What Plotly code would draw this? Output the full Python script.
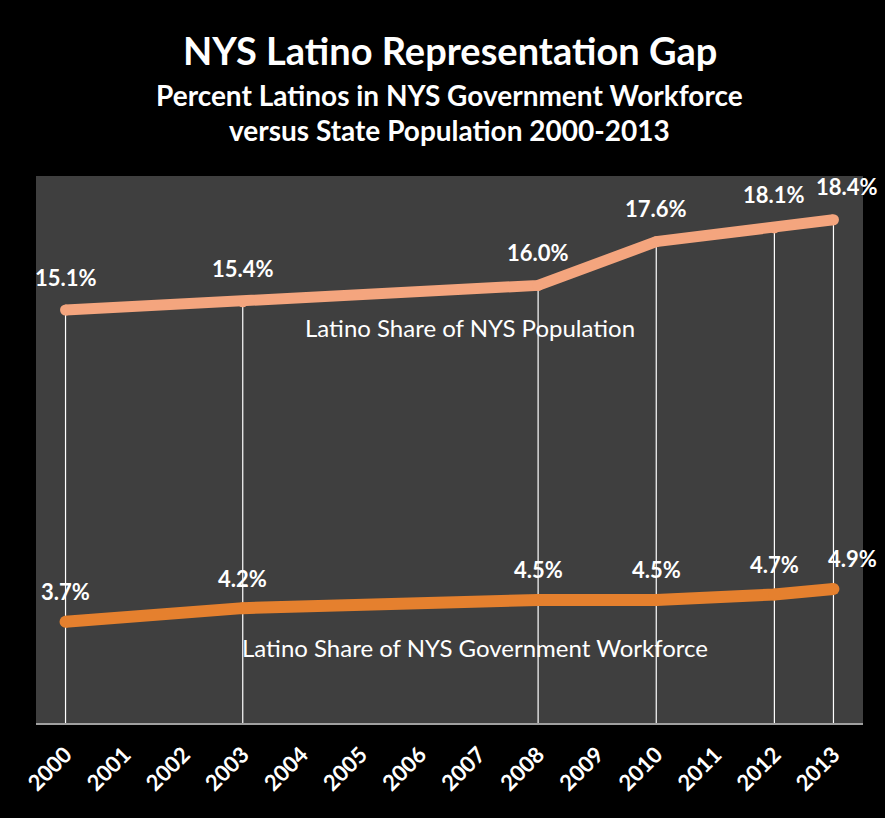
import plotly.graph_objects as go

years = [str(y) for y in range(2000, 2014)]
data_years = ["2000", "2003", "2008", "2010", "2012", "2013"]
population = [15.1, 15.4, 16.0, 17.6, 18.1, 18.4]
workforce = [3.7, 4.2, 4.5, 4.5, 4.7, 4.9]
pop_labels = [f"{v:.1f}%" for v in population]
wf_labels = [f"{v:.1f}%" for v in workforce]

POP_COLOR = "#F4A57E"
WF_COLOR = "#E5802E"
FONT = "Lato"

fig = go.Figure()

# drop lines from population points to the axis
dx, dy = [], []
for yr, v in zip(data_years, population):
    dx += [yr, yr, None]
    dy += [v, 0, None]
fig.add_trace(go.Scatter(x=dx, y=dy, mode="lines",
                         line=dict(color="white", width=1.2),
                         hoverinfo="skip", showlegend=False))

fig.add_trace(go.Scatter(x=data_years, y=population, mode="lines+markers",
                         line=dict(color=POP_COLOR, width=11),
                         marker=dict(color=POP_COLOR, size=11),
                         showlegend=False, name="Population"))
fig.add_trace(go.Scatter(x=data_years, y=workforce, mode="lines+markers",
                         line=dict(color=WF_COLOR, width=12),
                         marker=dict(color=WF_COLOR, size=12),
                         showlegend=False, name="Workforce"))

plot_top, plot_bottom = 176, 723
ph = plot_bottom - plot_top
def py(ypix):
    return (plot_bottom - ypix) / ph

annotations = []
last = len(data_years) - 1
for i, (yr, v, t) in enumerate(zip(data_years, population, pop_labels)):
    annotations.append(dict(x=years.index(yr), y=v, xref="x", yref="y",
                            text=f"<b>{t}</b>", showarrow=False, yshift=33,
                            xshift=14 if i == last else 0,
                            font=dict(family=FONT, size=22, color="white")))
for i, (yr, v, t) in enumerate(zip(data_years, workforce, wf_labels)):
    annotations.append(dict(x=years.index(yr), y=v, xref="x", yref="y",
                            text=f"<b>{t}</b>", showarrow=False, yshift=30,
                            xshift=19 if i == last else 0,
                            font=dict(family=FONT, size=22, color="white")))

annotations += [
    dict(text="Latino Share of NYS Population", x=0.525, y=py(327),
         xref="paper", yref="paper", showarrow=False, yanchor="middle",
         font=dict(family=FONT, size=24, color="white")),
    dict(text="Latino Share of NYS Government Workforce", x=0.531, y=py(647),
         xref="paper", yref="paper", showarrow=False, yanchor="middle",
         font=dict(family=FONT, size=24, color="white")),
    dict(text="<b>NYS Latino Representation Gap</b>", x=0.5, y=py(50),
         xref="paper", yref="paper", yanchor="middle", showarrow=False,
         font=dict(family=FONT, size=38, color="white")),
    dict(text="<b>Percent Latinos in NYS Government Workforce</b>",
         x=0.5, y=py(95), xref="paper", yref="paper", showarrow=False,
         yanchor="middle", font=dict(family=FONT, size=28, color="white")),
    dict(text="<b>versus State Population 2000-2013</b>",
         x=0.5, y=py(130), xref="paper", yref="paper", showarrow=False,
         yanchor="middle", font=dict(family=FONT, size=28, color="white")),
]

fig.update_layout(
    annotations=annotations,
    width=885, height=818,
    paper_bgcolor="black", plot_bgcolor="#3F3F3F",
    margin=dict(l=36, r=22, t=176, b=95),
    xaxis=dict(type="category", categoryorder="array", categoryarray=years,
               tickvals=years, ticktext=[f"<b>{y}</b>" for y in years],
               range=[-0.5, 13.5], tickangle=-45, ticklabelstandoff=8,
               showgrid=False, zeroline=False, showline=True,
               linecolor="#a0a0a0", linewidth=2, ticks="",
               tickfont=dict(family=FONT, size=22, color="white"),
               fixedrange=True),
    yaxis=dict(range=[0, 20], visible=False, fixedrange=True),
)

fig.write_html("out.html")
